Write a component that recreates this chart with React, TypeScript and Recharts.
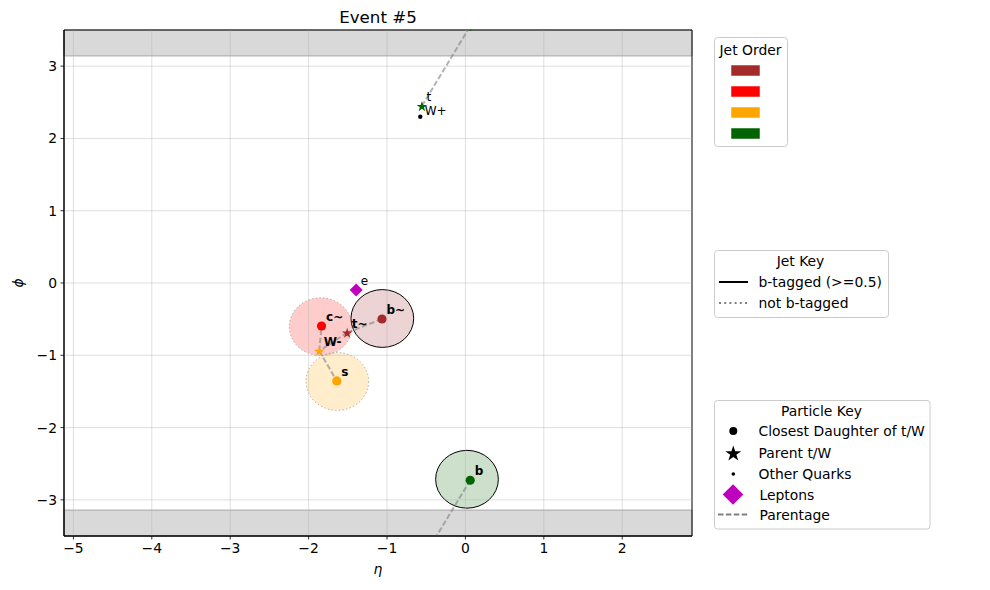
import React from 'react';
import { ScatterChart, Scatter, XAxis, YAxis, ReferenceArea, ReferenceLine, Label } from 'recharts';

// axis ranges and ticks
const etaDomain: [number, number] = [-5.12, 2.89];
const phiDomain: [number, number] = [-3.5, 3.5];
const etaTicks = [-5, -4, -3, -2, -1, 0, 1, 2];
const phiTicks = [-3, -2, -1, 0, 1, 2, 3];
const PHI_EDGE = 3.1416;

// jets, in pT order
const jetColors = ['#a52a2a', '#ff0000', '#ffa500', '#006400'];
const jetEta = [-1.06, -1.847, -1.634, 0.02];
const jetPhi = [-0.491, -0.604, -1.362, -2.715];
const jetBTagged = [true, false, false, true];
const JET_R = 0.4;

// closest daughters of t/W (jet index gives colour)
const daughters = [
  { eta: -1.064, phi: -0.498, jet: 0, name: 'b~' },
  { eta: -1.835, phi: -0.595, jet: 1, name: 'c~' },
  { eta: -1.641, phi: -1.355, jet: 2, name: 's' },
  { eta: 0.061, phi: -2.729, jet: 3, name: 'b' },
  { eta: 0.061, phi: 3.554, jet: 3, name: '' },
];

// parent t/W
const parents = [
  { eta: -0.555, phi: 2.448, jet: 3, name: 't' },
  { eta: -1.508, phi: -0.687, jet: 0, name: 't~' },
  { eta: -1.864, phi: -0.94, jet: 2, name: 'W-' },
];

const otherQuarks = [{ eta: -0.576, phi: 2.3, name: 'W+' }];
const leptons = [{ eta: -1.393, phi: -0.097, name: 'e' }];

// parent -> daughter links (wrapped in phi where they cross the edge)
const parentage: [number, number, number, number][] = [
  [-1.508, -0.687, -1.064, -0.498],
  [-1.508, -0.687, -1.864, -0.94],
  [-1.864, -0.94, -1.835, -0.595],
  [-1.864, -0.94, -1.641, -1.355],
  [-0.555, 2.448, 0.061, 3.554],
  [0.061, -2.729, -0.555, -3.835],
];

const boldNames = ['b~', 'c~', 's', 'b', 't~', 'W-'];

const FONT = 'DejaVu Sans, sans-serif';
const labelled = [...daughters, ...parents, ...leptons].filter(p => p.name);

const fmt = (v: number) => String(v).replace('-', '\u2212');

function starPath(cx: number, cy: number, R: number) {
  const r = R * 0.382;
  let d = '';
  for (let i = 0; i < 10; i++) {
    const rad = i % 2 === 0 ? R : r;
    const a = -Math.PI / 2 + (i * Math.PI) / 5;
    d += (i === 0 ? 'M' : 'L') + (cx + rad * Math.cos(a)).toFixed(2) + ',' + (cy + rad * Math.sin(a)).toFixed(2);
  }
  return d + 'Z';
}

const diamondPath = (cx: number, cy: number, h: number) =>
  `M${cx},${cy - h}L${cx + h},${cy}L${cx},${cy + h}L${cx - h},${cy}Z`;

// particle name drawn up and to the right of its marker
const nameShape = (dy: number) => (p: any) => (
  <text
    x={p.cx + 4.5} y={p.cy + dy} dominantBaseline="central" fontFamily={FONT} fontSize={12}
    fontWeight={boldNames.includes(p.payload.name) ? 700 : 400} fill="#000"
  >
    {p.payload.name}
  </text>
);

function Legends() {
  const box = { fill: '#fff', fillOpacity: 0.8, stroke: '#cccccc', strokeWidth: 1 };
  const txt = { fontFamily: FONT, fontSize: 13.9, fill: '#000', dominantBaseline: 'central' as const };
  const orderRows = [70.5, 91.5, 112.5, 133.5];
  const pRows = [431, 453, 474, 494.5, 514.5];
  return (
    <svg width={990} height={590} style={{ position: 'absolute', left: 0, top: 0, pointerEvents: 'none' }}>
      <text x={378} y={22.7} textAnchor="middle" fontFamily={FONT} fontSize={16.7} fill="#000">Event #5</text>

      {/* jet order */}
      <rect x={714.5} y={37.5} width={73} height={109} rx={3} {...box} />
      <text x={750.5} y={49.5} textAnchor="middle" {...txt}>Jet Order</text>
      {jetColors.map((c, i) => (
        <rect key={c} x={731} y={orderRows[i] - 5.5} width={29} height={11} fill={c} stroke="#fff" strokeWidth={0.5} />
      ))}

      {/* jet key */}
      <rect x={714.5} y={250.5} width={174} height={67} rx={3} {...box} />
      <text x={800.5} y={261} textAnchor="middle" {...txt}>Jet Key</text>
      <line x1={719} x2={748} y1={282} y2={282} stroke="#000" strokeWidth={2} />
      <text x={758.5} y={282} {...txt}>b-tagged (&gt;=0.5)</text>
      <line x1={719} x2={748} y1={303} y2={303} stroke="#808080" strokeWidth={2} strokeDasharray="2 3.2" />
      <text x={758.5} y={303} {...txt}>not b-tagged</text>

      {/* particle key */}
      <rect x={714.5} y={400.5} width={215.5} height={128.5} rx={3} {...box} />
      <text x={821.5} y={410.5} textAnchor="middle" {...txt}>Particle Key</text>
      <circle cx={733.3} cy={pRows[0]} r={4} fill="#000" />
      <text x={758.5} y={pRows[0]} {...txt}>Closest Daughter of t/W</text>
      <path d={starPath(733.3, pRows[1] + 0.8, 8.4)} fill="#000" />
      <text x={758.5} y={pRows[1]} {...txt}>Parent t/W</text>
      <circle cx={733.3} cy={pRows[2]} r={1.8} fill="#000" />
      <text x={758.5} y={pRows[2]} {...txt}>Other Quarks</text>
      <path d={diamondPath(733, pRows[3], 10.3)} fill="#bf00bf" />
      <text x={759.5} y={pRows[3]} {...txt}>Leptons</text>
      <line x1={718} x2={748} y1={pRows[4]} y2={pRows[4]} stroke="#808080" strokeWidth={2} strokeDasharray="5.5 2.4" />
      <text x={759.5} y={pRows[4]} {...txt}>Parentage</text>
    </svg>
  );
}

export default function App() {
  const tickStyle = { fontSize: 13.9, fill: '#000', fontFamily: FONT };
  return (
    <div style={{ position: 'absolute', left: 0, top: 0, width: 990, height: 590, background: '#fff' }}>
      <ScatterChart width={990} height={590} margin={{ top: 30, right: 298, bottom: 10, left: 8 }}>
        <XAxis
          type="number" dataKey="eta" domain={etaDomain} allowDataOverflow ticks={etaTicks} interval={0}
          height={44} tick={tickStyle} tickFormatter={fmt} tickSize={3.5} tickMargin={3.5}
          tickLine={{ stroke: '#000', strokeWidth: 0.8 }} axisLine={{ stroke: '#000', strokeWidth: 1 }}
        >
          <Label
            content={({ viewBox }: any) => (
              <text x={viewBox.x + viewBox.width / 2} y={574} textAnchor="middle" fontFamily={FONT} fontStyle="italic" fontSize={13.9} fill="#000">η</text>
            )}
          />
        </XAxis>
        <YAxis
          type="number" dataKey="phi" domain={phiDomain} allowDataOverflow ticks={phiTicks} interval={0}
          width={56} tick={tickStyle} tickFormatter={fmt} tickSize={3.5} tickMargin={3.5}
          tickLine={{ stroke: '#000', strokeWidth: 0.8 }} axisLine={{ stroke: '#000', strokeWidth: 1 }}
        >
          <Label
            content={({ viewBox }: any) => {
              const cy = viewBox.y + viewBox.height / 2;
              return (
                <text x={18} y={cy} textAnchor="middle" dominantBaseline="central" transform={`rotate(-90, 18, ${cy})`}
                  fontFamily={FONT} fontStyle="italic" fontSize={13.9} fill="#000">ϕ</text>
              );
            }}
          />
        </YAxis>

        {/* |phi| > pi bands */}
        <ReferenceArea y1={PHI_EDGE} y2={phiDomain[1]} fill="#d9d9d9" fillOpacity={1} stroke="#a8a8a8" strokeWidth={1} />
        <ReferenceArea y1={phiDomain[0]} y2={-PHI_EDGE} fill="#d9d9d9" fillOpacity={1} stroke="#a8a8a8" strokeWidth={1} />

        {etaTicks.map(t => (
          <ReferenceLine key={`gx${t}`} x={t} stroke="#b0b0b0" strokeOpacity={0.5} strokeWidth={0.8} />
        ))}
        {phiTicks.map(t => (
          <ReferenceLine key={`gy${t}`} y={t} stroke="#b0b0b0" strokeOpacity={0.5} strokeWidth={0.8} />
        ))}

        {jetEta.map((eta, i) => (
          <ReferenceArea
            key={`jet${i}`}
            x1={eta - JET_R} x2={eta + JET_R} y1={jetPhi[i] - JET_R} y2={jetPhi[i] + JET_R}
            shape={(p: any) => (
              <ellipse
                cx={p.x + p.width / 2} cy={p.y + p.height / 2} rx={p.width / 2} ry={p.height / 2}
                fill={jetColors[i]} fillOpacity={0.2}
                stroke={jetBTagged[i] ? '#000' : '#808080'}
                strokeOpacity={jetBTagged[i] ? 1 : 0.6}
                strokeWidth={1}
                strokeDasharray={jetBTagged[i] ? undefined : '1.4 2.3'}
              />
            )}
          />
        ))}

        {parentage.map(([x1, y1, x2, y2], i) => (
          <ReferenceLine
            key={`par${i}`}
            segment={[{ x: x1, y: y1 }, { x: x2, y: y2 }]}
            ifOverflow="hidden"
            stroke="#808080" strokeOpacity={0.6} strokeWidth={2} strokeDasharray="5.5 2.4"
          />
        ))}

        <Scatter
          data={daughters} isAnimationActive={false}
          shape={(p: any) => <circle cx={p.cx} cy={p.cy} r={4.6} fill={jetColors[p.payload.jet]} />}
        />
        <Scatter
          data={parents} isAnimationActive={false}
          shape={(p: any) => <path d={starPath(p.cx, p.cy + 0.6, 5.6)} fill={jetColors[p.payload.jet]} />}
        />
        <Scatter
          data={otherQuarks} isAnimationActive={false}
          shape={(p: any) => <circle cx={p.cx} cy={p.cy} r={2.2} fill="#000" />}
        />
        <Scatter
          data={leptons} isAnimationActive={false}
          shape={(p: any) => <path d={diamondPath(p.cx, p.cy, 6.5)} fill="#bf00bf" />}
        />
        <Scatter data={labelled} isAnimationActive={false} shape={nameShape(-9)} />
        <Scatter data={otherQuarks} isAnimationActive={false} shape={nameShape(-5.5)} />

        {/* axes frame */}
        <ReferenceArea
          x1={etaDomain[0]} x2={etaDomain[1]} y1={phiDomain[0]} y2={phiDomain[1]}
          fill="none" fillOpacity={0} stroke="#000" strokeWidth={1}
        />
      </ScatterChart>
      <Legends />
    </div>
  );
}
